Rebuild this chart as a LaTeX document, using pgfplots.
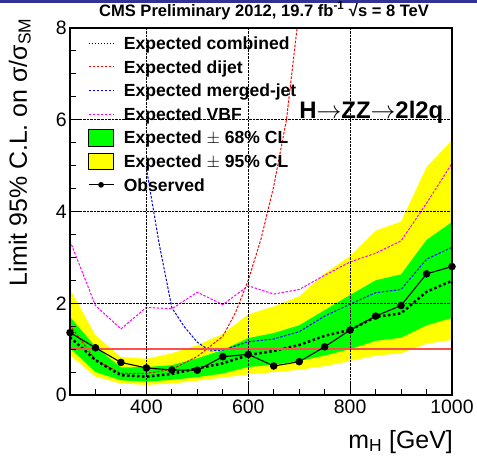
\documentclass[border=0pt]{standalone}
\usepackage{fontspec}
\setmainfont{Liberation Sans}
\usepackage{pgfplots}
\pgfplotsset{compat=1.18}

\definecolor{bandyellow}{RGB}{255,255,0}
\definecolor{bandgreen}{RGB}{0,255,0}
\definecolor{refline}{RGB}{250,80,80}
\definecolor{dijetred}{RGB}{255,0,0}
\definecolor{mergedblue}{RGB}{0,0,255}
\definecolor{vbfmag}{RGB}{255,0,255}
\definecolor{topbar}{RGB}{50,50,150}

\begin{document}
\begin{tikzpicture}[x=1bp,y=1bp]
\useasboundingbox (0,0) rectangle (477,458);
\fill[topbar] (0,455) rectangle (477,458);
\begin{axis}[
  at={(70bp,63bp)}, anchor=south west,
  scale only axis, width=382bp, height=367bp,
  xmin=250, xmax=1000, ymin=0, ymax=8,
  xtick={400,600,800,1000}, xticklabels={400,600,800,1000},
  minor xtick={300,350,450,500,550,650,700,750,850,900,950},
  ytick={0,2,4,6,8}, yticklabels={0,2,4,6,8},
  minor y tick num=3,
  tick pos=left, tick align=inside,
  major tick length=11bp, minor tick length=5.5bp,
  tick style={black, line width=1bp},
  grid=major, grid style={black, densely dotted, line width=0.8bp},
  axis line style={line width=1.3bp},
  axis on top,
  ticklabel style={font=\fontsize{19.5}{20}\selectfont, inner sep=0pt},
  xticklabel style={yshift=-5bp},
  yticklabel style={xshift=-3bp},
  xlabel={m\textsubscript{H} [GeV]},
  xlabel style={at={(axis description cs:1,0)}, anchor=base east, inner sep=0pt,
    yshift=-53bp, xshift=1bp, font=\fontsize{25}{25}\selectfont},
  ylabel={Limit 95\% C.L. on σ/σ\textsubscript{SM}},
  ylabel style={at={(axis description cs:-0.1126,1.0272)}, anchor=base east,
    inner sep=0pt, font=\fontsize{25}{25}\selectfont},
  title={CMS Preliminary 2012, 19.7 fb\textsuperscript{-1} √s = 8 TeV},
  title style={at={(axis description cs:0.508,1)}, anchor=base, yshift=6bp,
    inner sep=0pt, font=\bfseries\fontsize{16.6}{17}\selectfont},
  legend cell align=left,
  legend style={at={(axis description cs:0.047,0.983)}, anchor=north west,
    draw=none, fill=none, inner sep=0pt, outer sep=0pt,
    font=\bfseries\fontsize{17.6}{18}\selectfont,
    row sep=5.6bp, column sep=9.7bp,
    nodes={inner sep=0pt, text height=15.3bp, text depth=2.7bp}},
]

% legend entries (order of the original)
\addlegendimage{legend image code/.code={\draw[black, line width=1.2bp, dash pattern=on 1.5bp off 1.5bp] (0bp,0bp) -- (25bp,0bp);}}
\addlegendentry{Expected combined}
\addlegendimage{legend image code/.code={\draw[dijetred, line width=0.9bp, dash pattern=on 2.5bp off 1.5bp] (0bp,0bp) -- (25bp,0bp);}}
\addlegendentry{Expected dijet}
\addlegendimage{legend image code/.code={\draw[mergedblue, line width=0.9bp, dash pattern=on 2.5bp off 1.5bp] (0bp,0bp) -- (25bp,0bp);}}
\addlegendentry{Expected merged-jet}
\addlegendimage{legend image code/.code={\draw[vbfmag, line width=0.9bp, dash pattern=on 2.5bp off 1.5bp] (0bp,0bp) -- (25bp,0bp);}}
\addlegendentry{Expected VBF}
\addlegendimage{legend image code/.code={\draw[fill=bandgreen, draw=black, line width=0.8bp] (0bp,-8.3bp) rectangle (25bp,8.3bp);}}
\addlegendentry{Expected $\pm$ 68\% CL}
\addlegendimage{legend image code/.code={\draw[fill=bandyellow, draw=black, line width=0.8bp] (0bp,-8.3bp) rectangle (25bp,8.3bp);}}
\addlegendentry{Expected $\pm$ 95\% CL}
\addlegendimage{legend image code/.code={\draw[black, line width=1bp] (0bp,0bp) -- (25bp,0bp); \fill[black] (12.5bp,0bp) circle (2.6bp);}}
\addlegendentry{Observed}

% 95% band
\addplot[fill=bandyellow, draw=none, forget plot] coordinates {
  (250,2.31) (300,1.30) (350,0.83) (400,0.79) (450,0.91) (500,1.09)
  (550,1.33) (600,1.76) (650,1.93) (700,2.15) (750,2.65) (800,3.03)
  (850,3.58) (900,3.78) (950,4.97) (1000,5.55)
  (1000,1.20) (950,1.12) (900,0.91) (850,0.86) (800,0.74) (750,0.63)
  (700,0.55) (650,0.50) (600,0.45) (550,0.38) (500,0.31) (450,0.25)
  (400,0.22) (350,0.25) (300,0.40) (250,0.87)
} -- cycle;

% 68% band
\addplot[fill=bandgreen, draw=none, forget plot] coordinates {
  (250,1.70) (300,1.05) (350,0.60) (400,0.61) (450,0.65) (500,0.80)
  (550,0.98) (600,1.24) (650,1.35) (700,1.52) (750,1.85) (800,2.18)
  (850,2.50) (900,2.63) (950,3.38) (1000,3.77)
  (1000,1.68) (950,1.52) (900,1.25) (850,1.18) (800,1.00) (750,0.86)
  (700,0.74) (650,0.66) (600,0.61) (550,0.47) (500,0.39) (450,0.33)
  (400,0.29) (350,0.32) (300,0.50) (250,1.02)
} -- cycle;

% expected VBF
\addplot[vbfmag, line width=1bp, dash pattern=on 2.5bp off 1.5bp, forget plot] coordinates {
  (250,3.36) (300,1.95) (350,1.44) (400,1.91) (450,1.88) (500,2.24)
  (550,1.97) (600,2.38) (650,2.20) (700,2.30) (750,2.61) (800,2.90)
  (850,3.09) (900,3.36) (950,4.18) (1000,5.05)
};

% expected merged-jet
\addplot[mergedblue, line width=1bp, dash pattern=on 2.5bp off 1.5bp, forget plot] coordinates {
  (400,4.94) (425,3.30) (450,1.90) (475,1.48) (500,1.15) (525,0.96)
  (550,0.98) (600,1.16) (650,1.22) (700,1.38) (750,1.72) (800,1.98)
  (850,2.23) (900,2.30) (950,2.96) (1000,3.22)
};

% expected dijet
\addplot[dijetred, line width=1bp, dash pattern=on 2.5bp off 1.5bp, forget plot] coordinates {
  (250,1.52) (300,0.76) (350,0.47) (400,0.47) (450,0.56) (500,0.84)
  (550,1.28) (575,1.80) (600,2.50) (625,3.40) (650,4.55) (675,6.00) (700,8.40)
};

% expected combined
\addplot[black, line width=2.5bp, dash pattern=on 2.5bp off 2.5bp, forget plot] coordinates {
  (250,1.26) (300,0.76) (350,0.43) (400,0.40) (450,0.46) (500,0.58)
  (550,0.69) (600,0.87) (650,0.96) (700,1.09) (750,1.29) (800,1.42)
  (850,1.70) (900,1.78) (950,2.25) (1000,2.49)
};

% reference line at 1
\addplot[refline, line width=2bp, forget plot] coordinates {(250,1) (1000,1)};

% observed
\addplot[black, line width=1.1bp, mark=*, mark size=3.2bp, forget plot] coordinates {
  (250,1.36) (300,1.03) (350,0.71) (400,0.59) (450,0.545) (500,0.54)
  (550,0.835) (600,0.886) (650,0.632) (700,0.726) (750,1.05) (800,1.416)
  (850,1.72) (900,1.95) (950,2.64) (1000,2.80)
};

\node[anchor=base west, inner sep=0pt, font=\bfseries\fontsize{24}{24}\selectfont]
  at (axis cs:700,6.02) {H$\rightarrow$ZZ$\rightarrow$2l2q};
\end{axis}
\end{tikzpicture}
\end{document}
